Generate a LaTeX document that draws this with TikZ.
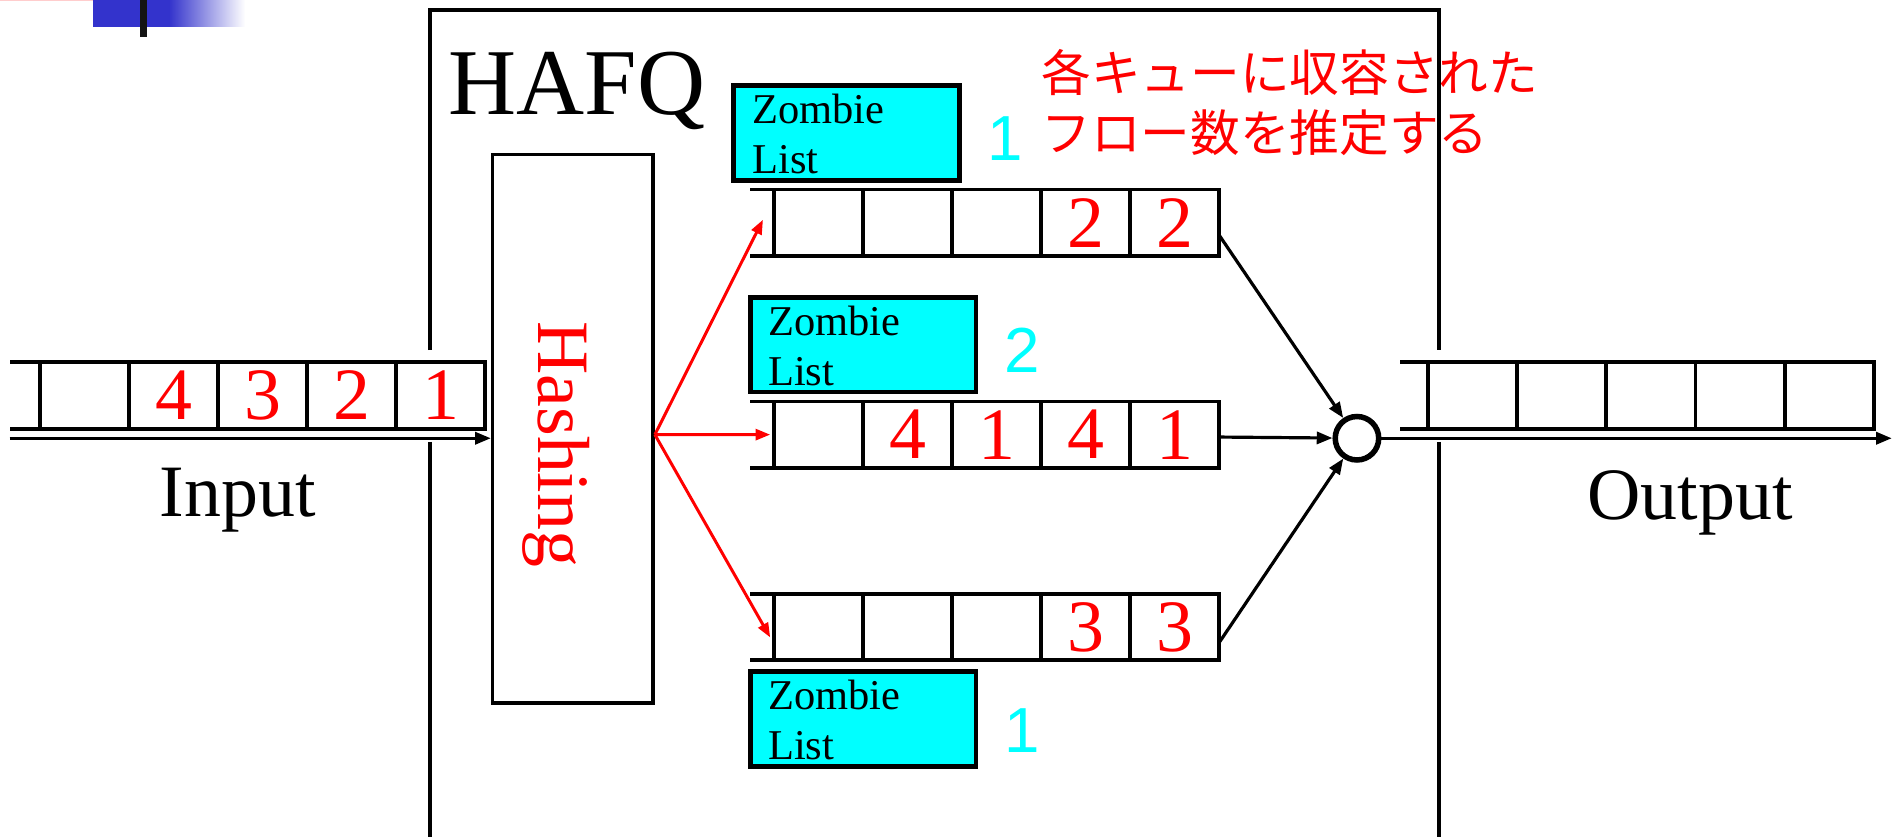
\documentclass[tikz,border=0pt]{standalone}
\usepackage{fontspec}
\setmainfont{Liberation Serif}
\newfontfamily\sansf{Liberation Sans}
\newfontfamily\jpf{Noto Sans CJK JP}
\usetikzlibrary{arrows.meta}
\definecolor{bluebar}{RGB}{51,51,204}
\definecolor{pinkbar}{RGB}{255,205,205}
\definecolor{zcyan}{RGB}{0,255,255}
\begin{document}
\begin{tikzpicture}[x=0.01cm,y=-0.01cm,
  qcell/.style={draw, line width=0.9pt, minimum width=0.738cm, minimum height=0.55cm, inner sep=0pt, outer sep=0pt, text=red, font=\fontsize{17.4}{17.4}\selectfont},
  qline/.style={line width=0.9pt},
  zbox/.style={draw, line width=1.1pt, fill=zcyan, minimum width=1.87cm, minimum height=0.785cm, inner sep=0pt},
  ztext/.style={font=\fontsize{10}{11.8}\selectfont, align=left, inner sep=0pt, anchor=west},
  znum/.style={text=zcyan, font=\sansf\fontsize{15}{15}\selectfont, inner sep=0pt},
  big/.style={font=\fontsize{17.4}{17.4}\selectfont, inner sep=0pt},
  rarrow/.style={red, line width=0.7pt, -{Triangle[length=0.12cm,width=0.09cm]}},
  barrow/.style={black, line width=0.75pt, -{Triangle[length=0.13cm,width=0.1cm]}},
  jp/.style={text=red, font=\jpf\fontsize{11.7}{11.7}\selectfont, inner sep=0pt, anchor=west},
  boxline/.style={line width=0.95pt},
]
\useasboundingbox (0,0) rectangle (1568,693);

% top-left artifact
\fill[pinkbar] (0,0) rectangle (103,1.2);
\fill[bluebar] (77,0) rectangle (140,22);
\shade[left color=bluebar, right color=white] (140,0) rectangle (203,22);
\fill[black!92] (116,0) rectangle (122,31);

% Japanese annotation
\node[jp] (jp1) at (862,60) {各キューに収容された};
\node[jp] (jp2) at (862,110) {フロー数を推定する};

% HAFQ box
\draw[boxline] (356,290) -- (356,8) -- (1192,8) -- (1192,290);
\draw[boxline] (356,366) -- (356,700);
\draw[boxline] (1192,366) -- (1192,700);
\node[font=\fontsize{22.2}{22.2}\selectfont, anchor=base west, inner sep=0pt] (hafq) at (371,95) {HAFQ};

% Hashing box
\node[draw, line width=0.8pt, minimum width=1.33cm, minimum height=4.54cm, inner sep=0pt] (hash) at (474.5,355) {};
\node[big, text=red, rotate=-90] (hasht) at (460.5,368) {Hashing};

% Input queue
\foreach \i/\t in {0/,1/4,2/3,3/2,4/1}
  \node[qcell] (in\i) at ({33+36.9+73.8*\i},327.5) {\t};
\draw[qline] (in0.north west) -- ++(-25,0);
\draw[qline] (in0.south west) -- ++(-25,0);
\coordinate (inS) at (8,363);
\draw[barrow] (inS) -- (inS -| hash.west);
\node[big, anchor=base] (inlab) at (197,428) {Input};

% Middle queues
\foreach \i/\t in {0/,1/,2/,3/2,4/2}
  \node[qcell] (qa\i) at ({641+36.9+73.8*\i},184.5) {\t};
\foreach \i/\t in {0/,1/4,2/1,3/4,4/1}
  \node[qcell] (qb\i) at ({641+36.9+73.8*\i},360) {\t};
\foreach \i/\t in {0/,1/,2/,3/3,4/3}
  \node[qcell] (qc\i) at ({641+36.9+73.8*\i},519.5) {\t};
\draw[qline] (qa0.north west) -- ++(-20,0);
\draw[qline] (qa0.south west) -- ++(-20,0);
\draw[qline] (qb0.north west) -- ++(-20,0);
\draw[qline] (qb0.south west) -- ++(-20,0);
\draw[qline] (qc0.north west) -- ++(-20,0);
\draw[qline] (qc0.south west) -- ++(-20,0);

% Zombie lists
\node[zbox] (z1) at (701,110) {};
\node[ztext] (z1t) at ([xshift=0.17cm,yshift=-0.01cm]z1.west) {Zombie\\List};
\node[zbox] (z2) at (715,285.5) {};
\node[ztext] (z2t) at ([xshift=0.16cm,yshift=-0.01cm]z2.west) {Zombie\\List};
\node[zbox] (z3) at (715,595.5) {};
\node[ztext] (z3t) at ([xshift=0.16cm,yshift=-0.01cm]z3.west) {Zombie\\List};
\node[znum] (n1) at (833,115) {1};
\node[znum] (n2) at (847,290) {2};
\node[znum] (n3) at (847,605) {1};

% Red arrows from hashing
\draw[rarrow] ([yshift=-0.05cm]hash.east) -- ([xshift=-0.09cm,yshift=0.025cm]qa0.west);
\draw[rarrow] ([yshift=-0.05cm]hash.east) -- ([xshift=-0.03cm]qb0.west);
\draw[rarrow] ([yshift=-0.05cm]hash.east) -- ([xshift=-0.03cm,yshift=-0.085cm]qc0.west);

% Scheduler
\node[circle, draw, line width=1.3pt, minimum size=0.36cm, inner sep=0pt] (mux) at (1124,363) {};
\draw[barrow] ([yshift=-0.105cm]qa4.east) -- (mux);
\draw[barrow] ([yshift=-0.02cm]qb4.east) -- (mux);
\draw[barrow] ([yshift=-0.125cm]qc4.east) -- (mux);

% Output queue
\foreach \i in {0,...,4}
  \node[qcell] (out\i) at ({1183+36.9+73.8*\i},327.5) {};
\draw[qline] (out0.north west) -- ++(-23,0);
\draw[qline] (out0.south west) -- ++(-23,0);
\coordinate (oEnd) at (1567,363);
\draw[barrow] (mux.east) -- (oEnd);
\node[big, anchor=base] (outlab) at (1400,430) {Output};
\end{tikzpicture}
\end{document}
